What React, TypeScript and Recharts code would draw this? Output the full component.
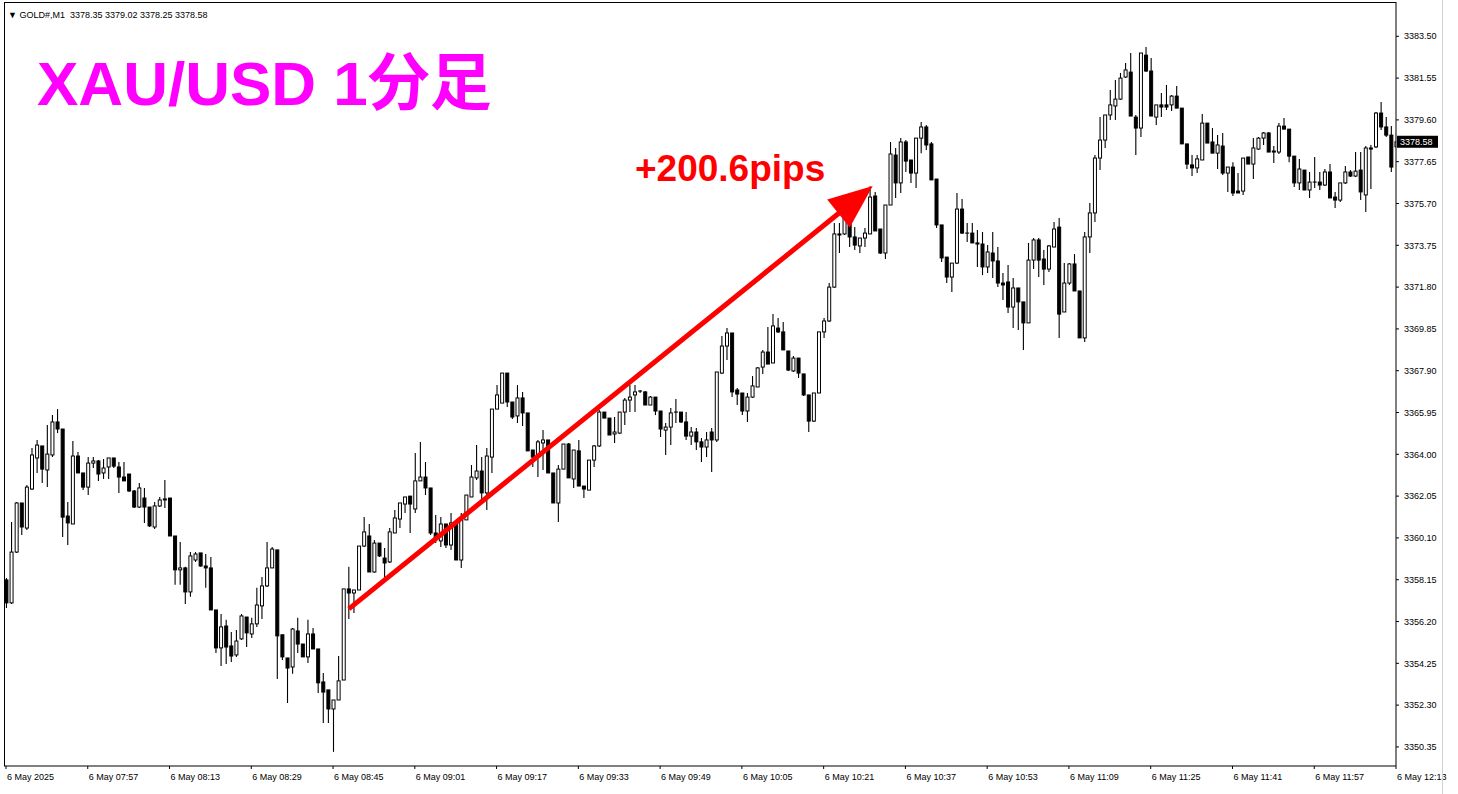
import { ComposedChart, Bar, XAxis, YAxis, ReferenceLine } from 'recharts'

// 1-minute XAU/USD candles, 6 May 2025 07:41 -> 12:13
const opens = [
  3358.14, 3357.07, 3359.44, 3361.73, 3360.56, 3362.38, 3363.83, 3364.39, 3363.27, 3363.97,
  3365.51, 3365.18, 3361.12, 3360.75, 3363.92, 3363.13, 3362.47, 3363.59, 3363.69, 3363.13,
  3363.41, 3363.83, 3363.41, 3362.94, 3363.08, 3362.29, 3361.54, 3361.96, 3361.54, 3360.61,
  3361.59, 3361.87, 3361.96, 3360.19, 3358.61, 3358.70, 3357.58, 3359.07, 3359.40, 3358.79,
  3358.70, 3356.74, 3354.97, 3355.99, 3355.06, 3354.64, 3355.39, 3356.41, 3355.62, 3356.09,
  3356.93, 3357.86, 3358.70, 3359.54, 3355.58, 3354.50, 3354.08, 3355.76, 3355.15, 3354.55,
  3355.62, 3354.92, 3353.38, 3353.01, 3352.12, 3352.54, 3353.47, 3357.72, 3357.53, 3357.67,
  3359.72, 3360.19, 3358.51, 3359.86, 3359.16, 3358.98, 3360.33, 3360.98, 3361.68, 3362.05,
  3361.45, 3362.76, 3362.94, 3362.43, 3360.33, 3359.96, 3360.75, 3359.77, 3360.80, 3359.07,
  3360.94, 3362.01, 3362.90, 3363.22, 3362.20, 3363.87, 3366.11, 3366.39, 3367.79, 3366.44,
  3365.79, 3366.63, 3365.93, 3364.20, 3363.87, 3364.53, 3364.67, 3363.13, 3361.73, 3363.31,
  3364.48, 3362.85, 3364.16, 3362.52, 3362.33, 3363.73, 3364.39, 3365.97, 3365.69, 3364.95,
  3364.99, 3365.97, 3366.53, 3366.77, 3366.95, 3366.91, 3366.30, 3366.67, 3366.02, 3365.13,
  3365.27, 3365.93, 3365.97, 3365.51, 3364.85, 3365.04, 3364.58, 3364.34, 3365.04, 3364.67,
  3367.79, 3369.05, 3369.66, 3367.00, 3366.86, 3366.02, 3366.67, 3367.14, 3368.07, 3368.77,
  3368.26, 3369.89, 3369.71, 3368.82, 3367.89, 3368.49, 3367.75, 3366.77, 3365.55, 3366.86,
  3369.71, 3370.22, 3371.80, 3374.28, 3374.28, 3375.44, 3374.14, 3373.72, 3374.09, 3374.28,
  3376.05, 3374.51, 3373.39, 3375.63, 3377.96, 3376.66, 3378.57, 3377.73, 3377.12, 3378.75,
  3379.27, 3378.48, 3376.84, 3374.70, 3373.20, 3372.27, 3372.92, 3375.44, 3374.32, 3374.32,
  3373.86, 3373.81, 3372.74, 3373.39, 3373.02, 3371.99, 3372.04, 3370.87, 3371.76, 3371.11,
  3370.13, 3373.06, 3374.00, 3373.11, 3372.64, 3373.67, 3374.60, 3370.64, 3371.99, 3372.88,
  3371.62, 3369.43, 3374.14, 3375.26, 3377.82, 3378.66, 3379.83, 3380.25, 3380.57, 3381.60,
  3381.83, 3379.73, 3379.22, 3382.62, 3381.88, 3379.73, 3380.30, 3380.30, 3380.30, 3380.71,
  3380.15, 3378.48, 3377.50, 3377.36, 3377.73, 3379.45, 3378.57, 3378.05, 3378.38, 3377.12,
  3377.40, 3376.28, 3376.28, 3377.87, 3377.54, 3378.24, 3378.75, 3378.99, 3378.15, 3378.10,
  3379.31, 3379.17, 3377.91, 3376.66, 3377.26, 3376.33, 3376.70, 3376.70, 3376.56, 3377.17,
  3376.00, 3375.86, 3376.66, 3377.17, 3376.98, 3377.26, 3376.10, 3378.29, 3378.34, 3379.92,
  3379.27, 3378.89, 3378.35,
]

const highs = [
  3358.23, 3360.84, 3361.77, 3361.73, 3362.57, 3364.30, 3364.67, 3364.39, 3365.37, 3365.83,
  3366.11, 3365.18, 3361.77, 3364.62, 3364.11, 3363.13, 3363.87, 3363.87, 3363.73, 3363.78,
  3363.83, 3363.83, 3363.64, 3363.64, 3363.08, 3362.33, 3362.66, 3362.43, 3361.54, 3361.77,
  3362.01, 3362.80, 3361.96, 3360.19, 3359.91, 3358.75, 3359.44, 3359.44, 3359.40, 3359.35,
  3359.21, 3356.74, 3356.55, 3356.28, 3355.71, 3355.81, 3356.55, 3356.41, 3356.37, 3357.77,
  3358.28, 3359.91, 3359.68, 3359.54, 3355.58, 3354.50, 3355.90, 3356.37, 3355.15, 3356.28,
  3355.90, 3354.92, 3353.80, 3353.01, 3352.54, 3354.59, 3357.72, 3358.75, 3357.67, 3359.72,
  3361.07, 3360.75, 3360.00, 3359.86, 3359.63, 3360.56, 3361.40, 3361.73, 3362.01, 3362.05,
  3364.06, 3364.58, 3363.64, 3362.43, 3361.17, 3361.07, 3360.75, 3361.26, 3360.80, 3361.26,
  3362.10, 3363.50, 3364.43, 3363.87, 3364.30, 3366.11, 3367.23, 3367.79, 3367.79, 3366.44,
  3367.23, 3366.91, 3365.93, 3364.20, 3364.67, 3365.13, 3364.67, 3363.13, 3363.50, 3364.48,
  3364.53, 3364.20, 3364.67, 3362.52, 3363.73, 3364.43, 3366.07, 3365.97, 3365.69, 3365.74,
  3365.97, 3366.63, 3367.23, 3367.23, 3367.00, 3366.95, 3366.72, 3366.67, 3366.02, 3365.46,
  3366.16, 3366.58, 3365.97, 3365.97, 3365.27, 3365.23, 3364.76, 3365.04, 3365.23, 3367.84,
  3369.52, 3369.89, 3369.66, 3367.09, 3366.86, 3366.86, 3367.65, 3368.07, 3368.87, 3369.94,
  3370.54, 3370.36, 3370.17, 3368.82, 3368.59, 3368.49, 3367.75, 3366.77, 3366.86, 3369.71,
  3370.36, 3371.99, 3374.79, 3374.79, 3375.40, 3375.58, 3374.60, 3374.09, 3374.56, 3376.51,
  3376.24, 3374.51, 3375.63, 3378.57, 3378.29, 3378.75, 3378.66, 3377.73, 3378.75, 3379.50,
  3379.36, 3378.57, 3376.84, 3374.70, 3373.20, 3372.92, 3376.19, 3375.91, 3374.79, 3374.79,
  3374.46, 3374.37, 3373.76, 3374.37, 3373.67, 3372.46, 3372.83, 3372.22, 3371.76, 3371.11,
  3373.86, 3374.09, 3374.09, 3373.53, 3373.76, 3374.84, 3375.02, 3372.92, 3372.92, 3373.34,
  3371.62, 3374.37, 3375.72, 3377.96, 3379.73, 3379.83, 3380.99, 3381.46, 3381.79, 3382.25,
  3382.72, 3379.83, 3382.72, 3383.00, 3382.49, 3380.30, 3380.85, 3381.23, 3380.76, 3381.18,
  3380.15, 3378.48, 3377.96, 3377.96, 3379.87, 3379.45, 3379.22, 3378.89, 3378.99, 3377.40,
  3377.63, 3377.12, 3377.82, 3377.87, 3378.75, 3378.80, 3379.03, 3379.03, 3378.38, 3379.45,
  3379.69, 3379.17, 3377.91, 3377.78, 3377.26, 3377.17, 3377.87, 3377.17, 3377.31, 3377.54,
  3376.24, 3376.66, 3377.45, 3377.26, 3378.10, 3378.10, 3378.38, 3378.43, 3379.97, 3380.43,
  3379.73, 3379.31, 3379.02,
]

const lows = [
  3356.83, 3357.02, 3359.40, 3360.24, 3360.47, 3362.33, 3363.13, 3362.66, 3362.47, 3363.87,
  3364.99, 3360.14, 3359.77, 3360.75, 3363.13, 3362.33, 3362.10, 3363.36, 3362.76, 3362.85,
  3362.85, 3363.36, 3362.20, 3362.76, 3362.24, 3361.50, 3361.50, 3360.80, 3360.61, 3360.52,
  3361.54, 3361.50, 3360.19, 3357.91, 3357.91, 3357.02, 3357.35, 3358.98, 3358.75, 3357.77,
  3356.74, 3354.73, 3354.13, 3354.22, 3354.31, 3354.55, 3355.34, 3355.01, 3355.43, 3355.95,
  3356.32, 3357.81, 3358.70, 3353.52, 3354.41, 3352.40, 3353.76, 3354.73, 3354.55, 3354.27,
  3354.92, 3352.87, 3351.47, 3351.47, 3350.12, 3352.54, 3353.47, 3356.32, 3356.60, 3357.67,
  3359.68, 3358.51, 3358.47, 3359.21, 3358.28, 3358.93, 3360.33, 3360.56, 3361.26, 3360.33,
  3361.26, 3362.76, 3362.10, 3360.24, 3359.86, 3359.68, 3359.63, 3359.54, 3359.07, 3358.70,
  3360.94, 3362.01, 3362.80, 3361.87, 3361.40, 3363.13, 3366.11, 3366.39, 3366.21, 3365.65,
  3365.46, 3365.32, 3364.16, 3363.41, 3362.94, 3363.27, 3363.13, 3361.73, 3360.84, 3363.31,
  3362.90, 3362.43, 3362.52, 3361.96, 3362.33, 3363.41, 3364.34, 3365.69, 3364.90, 3364.53,
  3364.95, 3365.37, 3365.97, 3365.97, 3366.86, 3366.30, 3366.30, 3365.83, 3364.81, 3363.97,
  3364.43, 3365.46, 3365.46, 3364.67, 3364.43, 3364.20, 3363.64, 3363.87, 3363.17, 3364.58,
  3367.75, 3368.40, 3366.67, 3366.30, 3365.83, 3365.51, 3366.63, 3367.14, 3367.75, 3368.21,
  3368.26, 3369.66, 3368.87, 3367.89, 3367.84, 3367.56, 3366.72, 3365.04, 3365.51, 3366.86,
  3369.43, 3370.17, 3371.76, 3373.39, 3374.23, 3373.67, 3373.53, 3373.39, 3373.67, 3374.28,
  3374.42, 3373.34, 3373.11, 3375.63, 3375.96, 3376.19, 3377.17, 3376.66, 3376.42, 3378.05,
  3378.20, 3376.80, 3374.56, 3372.97, 3371.99, 3371.57, 3372.88, 3374.28, 3373.90, 3373.86,
  3372.74, 3372.36, 3372.46, 3372.22, 3371.81, 3371.20, 3370.59, 3369.89, 3369.80, 3368.87,
  3370.13, 3372.64, 3372.27, 3371.90, 3372.50, 3373.67, 3369.43, 3370.64, 3371.90, 3371.62,
  3369.43, 3369.24, 3373.39, 3374.84, 3377.26, 3378.29, 3379.60, 3379.60, 3380.53, 3381.55,
  3379.78, 3377.96, 3378.80, 3381.83, 3379.78, 3379.36, 3379.73, 3380.06, 3380.01, 3380.15,
  3378.48, 3377.31, 3376.98, 3377.12, 3377.73, 3378.52, 3378.05, 3377.31, 3377.03, 3376.24,
  3376.05, 3376.19, 3376.10, 3377.54, 3376.84, 3378.20, 3378.43, 3378.10, 3377.59, 3378.01,
  3379.17, 3377.63, 3376.47, 3376.33, 3376.33, 3375.96, 3376.42, 3376.33, 3376.52, 3375.96,
  3375.49, 3375.77, 3376.61, 3376.94, 3376.94, 3375.86, 3375.30, 3376.38, 3378.29, 3379.13,
  3378.80, 3377.17, 3378.25,
]

const closes = [
  3357.07, 3359.44, 3361.73, 3360.61, 3362.47, 3363.97, 3364.43, 3363.31, 3364.01, 3365.51,
  3365.18, 3361.07, 3360.80, 3363.92, 3363.13, 3362.47, 3363.59, 3363.69, 3363.08, 3363.36,
  3363.83, 3363.45, 3362.94, 3362.76, 3362.29, 3361.54, 3362.43, 3361.54, 3360.66, 3361.59,
  3361.87, 3361.92, 3360.19, 3358.61, 3358.70, 3357.58, 3359.26, 3359.35, 3358.79, 3358.70,
  3356.74, 3354.97, 3355.95, 3355.01, 3354.59, 3355.29, 3356.46, 3355.67, 3356.09, 3356.97,
  3357.86, 3358.70, 3359.58, 3355.53, 3354.55, 3354.03, 3355.85, 3355.15, 3354.55, 3355.62,
  3354.92, 3353.34, 3352.91, 3352.12, 3352.54, 3353.43, 3357.72, 3357.53, 3357.67, 3359.72,
  3360.38, 3358.51, 3359.86, 3359.26, 3358.93, 3360.38, 3361.03, 3361.73, 3362.01, 3361.68,
  3362.76, 3362.94, 3362.43, 3360.33, 3360.10, 3360.75, 3359.77, 3360.80, 3359.07, 3360.94,
  3362.10, 3362.94, 3363.22, 3362.20, 3363.92, 3366.11, 3366.77, 3367.79, 3366.44, 3365.74,
  3366.63, 3365.93, 3364.16, 3363.87, 3364.58, 3364.67, 3363.13, 3361.73, 3363.31, 3364.48,
  3362.90, 3364.20, 3362.52, 3362.38, 3363.73, 3364.39, 3365.97, 3365.69, 3364.90, 3365.04,
  3365.97, 3366.53, 3366.67, 3366.91, 3366.91, 3366.30, 3366.67, 3366.02, 3365.18, 3365.27,
  3365.93, 3365.97, 3365.51, 3364.85, 3365.04, 3364.58, 3364.34, 3364.67, 3364.67, 3367.84,
  3369.05, 3369.66, 3366.91, 3366.81, 3366.02, 3366.67, 3367.19, 3368.03, 3368.77, 3368.21,
  3369.99, 3369.71, 3368.87, 3367.93, 3368.49, 3367.79, 3366.77, 3365.55, 3366.86, 3369.71,
  3370.22, 3371.80, 3374.28, 3374.23, 3375.40, 3374.14, 3373.76, 3374.09, 3374.32, 3376.00,
  3374.42, 3373.39, 3375.63, 3378.01, 3376.66, 3378.57, 3377.68, 3377.12, 3378.75, 3379.27,
  3378.43, 3376.80, 3374.70, 3373.16, 3372.27, 3372.92, 3375.44, 3374.32, 3374.28, 3373.86,
  3373.81, 3372.74, 3373.44, 3373.02, 3371.99, 3371.90, 3370.87, 3371.76, 3371.11, 3370.13,
  3373.06, 3374.00, 3373.06, 3372.64, 3373.72, 3374.51, 3370.54, 3371.99, 3372.88, 3371.62,
  3369.43, 3374.14, 3375.26, 3377.82, 3378.66, 3379.83, 3380.30, 3380.57, 3381.55, 3381.93,
  3379.78, 3379.22, 3382.72, 3381.88, 3379.78, 3380.30, 3380.20, 3380.20, 3380.71, 3380.15,
  3378.48, 3377.54, 3377.36, 3377.78, 3379.45, 3378.52, 3378.05, 3378.43, 3377.12, 3377.40,
  3376.19, 3376.19, 3377.82, 3377.54, 3378.29, 3378.75, 3378.99, 3378.10, 3378.10, 3379.31,
  3379.17, 3377.91, 3376.66, 3377.31, 3376.33, 3376.70, 3376.66, 3376.56, 3377.17, 3375.96,
  3375.86, 3376.66, 3377.17, 3376.98, 3377.21, 3376.24, 3378.29, 3378.24, 3379.92, 3379.27,
  3378.89, 3377.40, 3378.58,
]

// one label every 16 bars
const xTickLabels = [
  '6 May 2025', '6 May 07:57', '6 May 08:13', '6 May 08:29', '6 May 08:45', '6 May 09:01',
  '6 May 09:17', '6 May 09:33', '6 May 09:49', '6 May 10:05', '6 May 10:21', '6 May 10:37',
  '6 May 10:53', '6 May 11:09', '6 May 11:25', '6 May 11:41', '6 May 11:57', '6 May 12:13',
]

const yTicks = [
  3350.35, 3352.3, 3354.25, 3356.2, 3358.15, 3360.1, 3362.05, 3364.0, 3365.95,
  3367.9, 3369.85, 3371.8, 3373.75, 3375.7, 3377.65, 3379.6, 3381.55, 3383.5,
]

const header = ['GOLD#,M1', '3378.35', '3379.02', '3378.25', '3378.58']
const lastPrice = 3378.58

// arrow annotation (bar index, price)
const arrowStart = { i: 67.1, price: 3356.79 }
const arrowEnd = { i: 169.6, price: 3376.52 }

const candles = opens.map((o, i) => ({ i, o, h: highs[i], l: lows[i], c: closes[i] }))
const xTicks = xTickLabels.map((_, k) => k * 16)

const FONT = '"Liberation Sans", Arial, sans-serif'
const RED = '#ff0000'

function Candle(props: any) {
  const { x, y, width, height, payload } = props
  if (!payload) return null
  const { o, h, l, c } = payload
  const top = Math.min(y, y + height)
  const bot = Math.max(y, y + height)
  const span = h - l
  const toPx = (v: number) => (span === 0 ? top : top + ((h - v) / span) * (bot - top))
  const cx = x + width / 2
  const yo = toPx(o)
  const yc = toPx(c)
  const bTop = Math.min(yo, yc)
  const bBot = Math.max(yo, yc)
  const up = c > o
  return (
    <g>
      <line x1={cx} x2={cx} y1={top} y2={bot} stroke="#000" strokeWidth={1.1} />
      {bBot - bTop < 1 ? (
        <line x1={cx - 2} x2={cx + 2} y1={bTop} y2={bTop} stroke="#000" strokeWidth={1.1} />
      ) : (
        <rect
          x={cx - 1.5}
          y={bTop}
          width={3}
          height={bBot - bTop}
          fill={up ? '#fff' : '#000'}
          stroke="#000"
          strokeWidth={1}
        />
      )}
    </g>
  )
}

function TimeTick(props: any) {
  const { x, y, payload } = props
  const label = xTickLabels[Math.round(payload.value / 16)]
  return (
    <text x={x + 1} y={y} dy={11} fontSize={9} fontFamily={FONT} fill="#000">
      {label}
    </text>
  )
}

function Arrow(props: any) {
  const { x1, y1, x2, y2 } = props
  const dx = x2 - x1
  const dy = y2 - y1
  const len = Math.hypot(dx, dy) || 1
  const ux = dx / len
  const uy = dy / len
  const headLen = 44
  const half = 18
  const bx = x2 - ux * headLen
  const by = y2 - uy * headLen
  const px = -uy
  const py = ux
  return (
    <g>
      <line x1={x1} y1={y1} x2={bx + ux * 4} y2={by + uy * 4} stroke={RED} strokeWidth={5} />
      <polygon
        points={`${x2},${y2} ${bx + px * half},${by + py * half} ${bx - px * half},${by - py * half}`}
        fill={RED}
      />
    </g>
  )
}

function PriceTag(props: any) {
  const vb = props.viewBox
  if (!vb) return null
  const x = vb.x + vb.width
  const y = vb.y
  return (
    <g>
      <rect x={x + 1} y={y - 6} width={41} height={12} fill="#000" />
      <text x={x + 4} y={y + 3.5} fontSize={9} fontFamily={FONT} fill="#fff">
        {lastPrice.toFixed(2)}
      </text>
    </g>
  )
}

export default function App() {
  return (
    <div style={{ position: 'absolute', left: 0, top: 0, width: 1458, height: 794, background: '#fff' }}>
      <ComposedChart
        width={1458}
        height={794}
        data={candles}
        margin={{ top: 2, right: 16, bottom: 8, left: 4 }}
      >
        <XAxis
          dataKey="i"
          type="number"
          scale="linear"
          domain={[-0.391, 272]}
          allowDataOverflow
          ticks={xTicks}
          interval={0}
          height={20}
          tickSize={3}
          tickMargin={0}
          tick={(p: any) => <TimeTick {...p} />}
          axisLine={{ stroke: '#000' }}
          tickLine={{ stroke: '#000' }}
        />
        <YAxis
          orientation="right"
          type="number"
          width={46}
          domain={[3349.46, 3385.1]}
          allowDataOverflow
          ticks={yTicks}
          interval={0}
          tickSize={3}
          tickMargin={5}
          tickFormatter={(v: number) => v.toFixed(2)}
          tick={{ fontSize: 9, fill: '#000', fontFamily: FONT }}
          axisLine={{ stroke: '#000' }}
          tickLine={{ stroke: '#000' }}
        />
        <Bar
          dataKey={(d: any) => [d.l, d.h]}
          barSize={4}
          shape={(p: any) => <Candle {...p} />}
          isAnimationActive={false}
        />
        <ReferenceLine
          segment={[
            { x: arrowStart.i, y: arrowStart.price },
            { x: arrowEnd.i, y: arrowEnd.price },
          ]}
          shape={(p: any) => <Arrow {...p} />}
        />
        <ReferenceLine y={lastPrice} stroke="none" label={(p: any) => <PriceTag {...p} />} />
      </ComposedChart>
      <svg
        width={1458}
        height={794}
        style={{ position: 'absolute', left: 0, top: 0, pointerEvents: 'none' }}
      >
        <line x1={4.5} x2={4.5} y1={2} y2={766} stroke="#000" />
        <line x1={4} x2={1396} y1={2.5} y2={2.5} stroke="#000" />
        <line x1={1442.5} x2={1442.5} y1={0} y2={794} stroke="#d0d0d0" />
        <text x={8} y={18} fontSize={9} fontFamily={FONT} fill="#000" style={{ whiteSpace: 'pre' }}>
          {'\u25BC ' + header[0] + '  ' + header.slice(1).join(' ')}
        </text>
        <text
          x={37}
          y={105}
          fontSize={62}
          fontWeight={700}
          fontFamily={'"Liberation Sans", Arial, "Noto Sans CJK JP", sans-serif'}
          fill="#ff00ff"
        >
          XAU/USD 1分足
        </text>
        <text x={635} y={181} fontSize={37} fontWeight={700} fontFamily={FONT} fill={RED}>
          +200.6pips
        </text>
      </svg>
    </div>
  )
}
